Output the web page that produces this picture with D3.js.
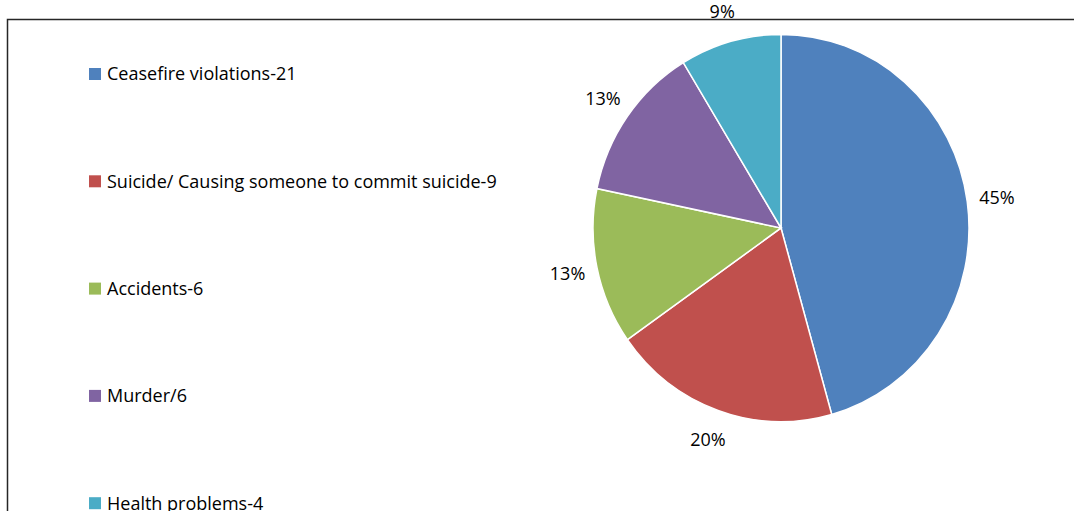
<!DOCTYPE html>
<meta charset="utf-8">
<script src="https://d3js.org/d3.v7.min.js"></script>
<style>
body { margin: 0; background: #fff; }
text { fill: #000; font-family: "Open Sans", sans-serif; }
</style>
<body>
<script>
var categories = ['Ceasefire violations-21', 'Suicide/ Causing someone to commit suicide-9', 'Accidents-6', 'Murder/6', 'Health problems-4'];
var values = [21, 9, 6, 6, 4];
var pctLabels = ['45%', '20%', '13%', '13%', '9%'];
var colors = ['#4F81BD', '#C0504D', '#9BBB59', '#8064A2', '#4BACC6'];

var width = 1074, height = 511;
var cx = 781, cy = 228, radius = 188, labelRadius = 218;

var svg = d3.select('body')
    .append('svg')
    .attr('width', width)
    .attr('height', height);

// chart border (left and top only visible in the crop)
svg.append('path')
    .attr('d', 'M7.5,' + height + 'V19.5H' + width)
    .attr('fill', 'none')
    .attr('stroke', '#262626')
    .attr('stroke-width', 1.5);

var data = categories.map(function(c, i) {
    return {name: c, value: values[i], label: pctLabels[i], color: colors[i]};
});

var pie = d3.pie().sort(null).value(function(d) { return d.value; });
var arc = d3.arc().innerRadius(0).outerRadius(radius);
var labelArc = d3.arc().innerRadius(labelRadius).outerRadius(labelRadius);

var g = svg.append('g')
    .attr('transform', 'translate(' + cx + ',' + cy + ') scale(1,1.03)');

var arcs = pie(data);

g.selectAll('path.slice')
    .data(arcs)
    .enter()
    .append('path')
    .attr('class', 'slice')
    .attr('d', arc)
    .attr('fill', function(d) { return d.data.color; })
    .attr('stroke', '#fff')
    .attr('stroke-width', 1.5);

svg.append('g')
    .attr('transform', 'translate(' + cx + ',' + cy + ')')
    .selectAll('text')
    .data(arcs)
    .enter()
    .append('text')
    .attr('transform', function(d) { var c = labelArc.centroid(d); return 'translate(' + c[0] + ',' + (c[1] * 1.03) + ')'; })
    .attr('text-anchor', 'middle')
    .attr('dy', '0.35em')
    .style('font-size', '18px')
    .text(function(d) { return d.data.label; });

// legend
var legendX = 89, legendY = 74, legendStep = 107.3, box = 12;
var legend = svg.append('g');
data.forEach(function(d, i) {
    var y = legendY + i * legendStep;
    legend.append('rect')
        .attr('x', legendX)
        .attr('y', y - box / 2)
        .attr('width', box)
        .attr('height', box)
        .attr('fill', d.color);
    legend.append('text')
        .attr('x', legendX + box + 6)
        .attr('y', y)
        .attr('dy', '0.35em')
        .style('font-size', '18px')
        .text(d.name);
});
</script>
</body>
</html>
